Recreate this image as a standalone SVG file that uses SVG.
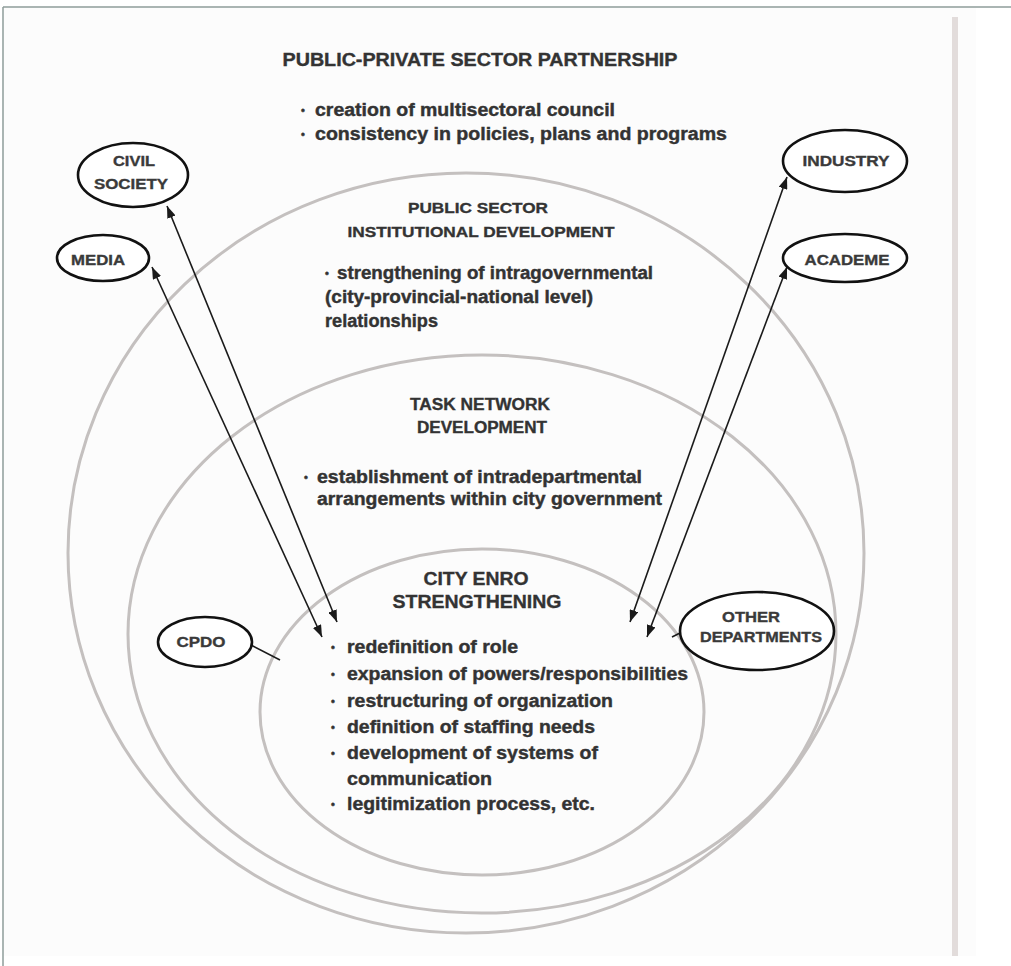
<svg xmlns="http://www.w3.org/2000/svg" width="1011" height="966" viewBox="0 0 1011 966">
<style>
.ring{fill:none;stroke:#c4c0bf;stroke-width:3}
.node{fill:#fff;stroke:#111;stroke-width:2.6}
.nt{font-family:"Liberation Sans",Arial,sans-serif;font-weight:bold;font-size:14.5px;fill:#3a3a3a;stroke:#3a3a3a;stroke-width:0.35;text-anchor:middle}
.h{font-family:"Liberation Sans",Arial,sans-serif;font-weight:bold;fill:#333;stroke:#333;stroke-width:0.35;text-anchor:middle}
.t{font-family:"Liberation Sans",Arial,sans-serif;font-weight:bold;font-size:17.5px;fill:#333;stroke:#333;stroke-width:0.4}
.b{font-size:11px}
.con{stroke:#1a1a1a;stroke-width:1.6;fill:none}
</style>
<defs>
<marker id="ah" viewBox="0 0 12 9" refX="12" refY="4.5" markerWidth="12" markerHeight="9" markerUnits="userSpaceOnUse" orient="auto-start-reverse">
<path d="M0,0 L12,4.5 L0,9 z" fill="#1a1a1a"/>
</marker>
</defs>
<rect x="0" y="0" width="1011" height="966" fill="#fff"/>
<rect x="4" y="8" width="972" height="948" fill="#fcfcfc"/>
<line x1="3" y1="7" x2="1011" y2="7" stroke="#8e9c9a" stroke-width="1.5"/>
<line x1="3" y1="7" x2="3" y2="966" stroke="#8e9c9a" stroke-width="1.5"/>
<rect x="952" y="17" width="6" height="939" fill="#e2dcdb"/>

<g id="rings">
<ellipse class="ring" cx="466" cy="553" rx="398" ry="380"/>
<ellipse class="ring" cx="482" cy="634" rx="354" ry="279"/>
<ellipse class="ring" cx="482" cy="712" rx="222" ry="163"/>
</g>

<g id="title">
<text class="h" x="480" y="66" font-size="18" textLength="395" lengthAdjust="spacingAndGlyphs">PUBLIC-PRIVATE SECTOR PARTNERSHIP</text>
<text class="t"><tspan class="b" x="301" y="114">•</tspan><tspan x="315" y="116" textLength="300" lengthAdjust="spacingAndGlyphs">creation of multisectoral council</tspan></text>
<text class="t"><tspan class="b" x="301" y="138">•</tspan><tspan x="315" y="140" textLength="412" lengthAdjust="spacingAndGlyphs">consistency in policies, plans and programs</tspan></text>
</g>

<g id="public-sector">
<text class="h" x="478" y="213" font-size="15.5" textLength="140" lengthAdjust="spacingAndGlyphs">PUBLIC SECTOR</text>
<text class="h" x="481" y="237" font-size="15.5" textLength="267" lengthAdjust="spacingAndGlyphs">INSTITUTIONAL DEVELOPMENT</text>
<text class="t"><tspan class="b" x="325" y="277">•</tspan><tspan x="337" y="279" textLength="316" lengthAdjust="spacingAndGlyphs">strengthening of intragovernmental</tspan></text>
<text class="t" x="325" y="303" textLength="268" lengthAdjust="spacingAndGlyphs">(city-provincial-national level)</text>
<text class="t" x="325" y="327" textLength="113" lengthAdjust="spacingAndGlyphs">relationships</text>
</g>

<g id="task-network">
<text class="h" x="480" y="410" font-size="16" textLength="140" lengthAdjust="spacingAndGlyphs">TASK NETWORK</text>
<text class="h" x="482" y="433" font-size="16" textLength="130" lengthAdjust="spacingAndGlyphs">DEVELOPMENT</text>
<text class="t"><tspan class="b" x="304" y="481">•</tspan><tspan x="317" y="483" textLength="325" lengthAdjust="spacingAndGlyphs">establishment of intradepartmental</tspan></text>
<text class="t" x="317" y="505" textLength="345" lengthAdjust="spacingAndGlyphs">arrangements within city government</text>
</g>

<g id="city-enro">
<text class="h" x="476" y="585" font-size="18.5" textLength="105" lengthAdjust="spacingAndGlyphs">CITY ENRO</text>
<text class="h" x="477" y="608" font-size="18.5" textLength="169" lengthAdjust="spacingAndGlyphs">STRENGTHENING</text>
<text class="t"><tspan class="b" x="331" y="651">•</tspan><tspan x="347" y="653" textLength="171" lengthAdjust="spacingAndGlyphs">redefinition of role</tspan></text>
<text class="t"><tspan class="b" x="331" y="678">•</tspan><tspan x="347" y="680" textLength="341" lengthAdjust="spacingAndGlyphs">expansion of powers/responsibilities</tspan></text>
<text class="t"><tspan class="b" x="331" y="705">•</tspan><tspan x="347" y="707" textLength="266" lengthAdjust="spacingAndGlyphs">restructuring of organization</tspan></text>
<text class="t"><tspan class="b" x="331" y="731">•</tspan><tspan x="347" y="733" textLength="248" lengthAdjust="spacingAndGlyphs">definition of staffing needs</tspan></text>
<text class="t"><tspan class="b" x="331" y="757">•</tspan><tspan x="347" y="759" textLength="251" lengthAdjust="spacingAndGlyphs">development of systems of</tspan></text>
<text class="t" x="347" y="785" textLength="145" lengthAdjust="spacingAndGlyphs">communication</text>
<text class="t"><tspan class="b" x="331" y="808">•</tspan><tspan x="347" y="810" textLength="248" lengthAdjust="spacingAndGlyphs">legitimization process, etc.</tspan></text>
</g>

<g id="connectors">
<line class="con" x1="337" y1="622" x2="167" y2="206" marker-start="url(#ah)" marker-end="url(#ah)"/>
<line class="con" x1="322" y1="637" x2="152" y2="267" marker-start="url(#ah)" marker-end="url(#ah)"/>
<line class="con" x1="630" y1="622" x2="787" y2="177" marker-start="url(#ah)" marker-end="url(#ah)"/>
<line class="con" x1="647" y1="637" x2="787" y2="267" marker-start="url(#ah)" marker-end="url(#ah)"/>
<line class="con" x1="251" y1="645" x2="280" y2="660"/>
<line class="con" x1="672" y1="637" x2="682" y2="632"/>
</g>

<g id="civil-society">
<ellipse class="node" cx="133" cy="175" rx="55" ry="32"/>
<text class="nt" x="134" y="166" textLength="42" lengthAdjust="spacingAndGlyphs">CIVIL</text>
<text class="nt" x="131" y="189" textLength="74" lengthAdjust="spacingAndGlyphs">SOCIETY</text>
</g>
<g id="media">
<ellipse class="node" cx="103" cy="258" rx="46" ry="23"/>
<text class="nt" x="98" y="265" textLength="54" lengthAdjust="spacingAndGlyphs">MEDIA</text>
</g>
<g id="industry">
<ellipse class="node" cx="845" cy="161" rx="62" ry="31"/>
<text class="nt" x="846" y="166" textLength="87" lengthAdjust="spacingAndGlyphs">INDUSTRY</text>
</g>
<g id="academe">
<ellipse class="node" cx="845" cy="258" rx="62" ry="24"/>
<text class="nt" x="847" y="265" textLength="85" lengthAdjust="spacingAndGlyphs">ACADEME</text>
</g>
<g id="cpdo">
<ellipse class="node" cx="205" cy="642" rx="47" ry="25"/>
<text class="nt" x="201" y="647" textLength="49" lengthAdjust="spacingAndGlyphs">CPDO</text>
</g>
<g id="other-departments">
<ellipse class="node" cx="757" cy="631" rx="77" ry="39"/>
<text class="nt" x="751" y="622" textLength="58" lengthAdjust="spacingAndGlyphs">OTHER</text>
<text class="nt" x="761" y="642" textLength="122" lengthAdjust="spacingAndGlyphs">DEPARTMENTS</text>
</g>
</svg>
